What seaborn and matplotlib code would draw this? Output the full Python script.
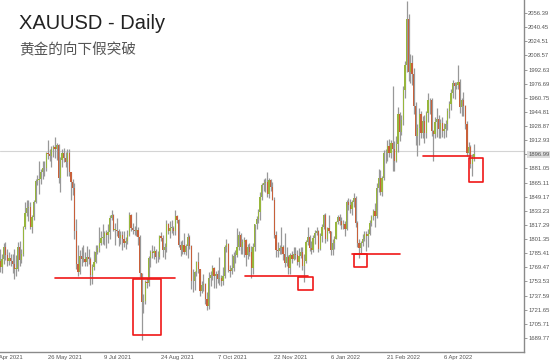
import numpy as np
import pandas as pd
import matplotlib
matplotlib.use("Agg")
import matplotlib.pyplot as plt
import matplotlib.transforms as mtransforms
import seaborn as sns
from matplotlib.patches import Rectangle

# ---------------- data ----------------
first_open = 1777
closes = [
    1770,1779,1793,1783,1777,1780,1777,1773,1768,1768,
    1792,1778,1784,1815,1831,1836,1837,1815,1826,1843,
    1867,1868,1869,1877,1881,1881,1898,1897,1895,1903,
    1905,1903,1908,1870,1891,1898,1893,1888,1899,1877,
    1866,1859,1811,1773,1764,1782,1779,1779,1776,1781,
    1779,1761,1770,1776,1787,1791,1797,1803,1803,1808,
    1806,1809,1825,1828,1812,1812,1810,1803,1806,1802,
    1797,1799,1806,1828,1814,1812,1810,1812,1804,1763,
    1730,1731,1753,1752,1780,1787,1786,1788,1781,1781,
    1805,1803,1789,1793,1818,1810,1814,1814,1810,1827,
    1823,1795,1789,1795,1787,1794,1804,1794,1754,1754,
    1764,1775,1768,1743,1750,1751,1734,1726,1757,1761,
    1769,1760,1762,1756,1757,1754,1760,1793,1796,1767,
    1765,1769,1782,1783,1793,1806,1793,1798,1800,1783,
    1793,1787,1769,1792,1818,1824,1832,1849,1862,1865,
    1866,1852,1868,1860,1845,1806,1789,1788,1791,1792,
    1785,1774,1781,1769,1783,1779,1785,1783,1775,1782,
    1787,1771,1777,1798,1804,1791,1789,1803,1808,1811,
    1790,1805,1815,1829,1801,1814,1810,1789,1797,1801,
    1821,1826,1822,1817,1818,1813,1843,1840,1835,1843,
    1848,1819,1797,1791,1797,1801,1807,1805,1807,1820,
    1826,1833,1827,1859,1870,1855,1870,1898,1898,1906,
    1898,1910,1903,1889,1909,1943,1922,1936,1970,1998,
    2050,1990,2000,1988,1952,1918,1927,1943,1921,1935,
    1921,1944,1958,1958,1923,1920,1933,1937,1925,1932,
    1923,1925,1931,1946,1954,1966,1977,1974,1975,1979,
    1950,1958,1951,1931,1898,1905,1886,1894,1897,
]
highs = [
    1790,1785,1797,1798,1790,1787,1785,1784,1790,1783,
    1798,1799,1790,1816,1843,1846,1845,1843,1829,1846,
    1869,1874,1890,1880,1890,1889,1900,1913,1903,1906,
    1908,1916,1910,1909,1894,1903,1904,1900,1903,1903,
    1877,1869,1865,1824,1795,1789,1792,1795,1787,1794,
    1790,1781,1773,1788,1795,1795,1815,1810,1818,1810,
    1812,1818,1829,1834,1830,1819,1825,1813,1811,1811,
    1810,1804,1812,1832,1830,1820,1816,1832,1815,1806,
    1760,1739,1755,1758,1782,1789,1795,1794,1790,1788,
    1806,1809,1806,1797,1823,1820,1822,1823,1816,1834,
    1828,1824,1799,1800,1808,1796,1808,1806,1795,1768,
    1765,1777,1787,1768,1754,1762,1752,1742,1764,1765,
    1772,1770,1765,1766,1781,1761,1770,1795,1801,1797,
    1772,1785,1787,1789,1814,1810,1808,1802,1804,1802,
    1796,1797,1794,1797,1818,1827,1835,1855,1865,1869,
    1870,1877,1870,1869,1866,1849,1810,1798,1795,1815,
    1795,1808,1793,1783,1786,1788,1793,1793,1789,1791,
    1792,1793,1785,1800,1815,1806,1799,1806,1812,1815,
    1812,1808,1818,1830,1831,1815,1829,1811,1801,1805,
    1822,1829,1830,1826,1823,1822,1845,1848,1847,1845,
    1853,1850,1822,1801,1799,1807,1810,1810,1813,1823,
    1828,1835,1842,1865,1880,1879,1872,1902,1903,1913,
    1914,1913,1974,1912,1918,1950,1945,1941,1974,2002,
    2070,2055,2010,2009,1994,1956,1931,1949,1946,1940,
    1941,1946,1966,1960,1960,1924,1939,1949,1941,1937,
    1939,1932,1936,1949,1957,1971,1981,1979,1979,1998,
    1982,1960,1967,1953,1935,1911,1907,1897,1909,
]
lows = [
    1764,1763,1773,1778,1771,1772,1771,1763,1756,1760,
    1765,1771,1774,1782,1813,1827,1822,1813,1808,1823,
    1842,1862,1852,1863,1869,1872,1878,1892,1889,1883,
    1894,1893,1891,1865,1855,1883,1888,1883,1872,1872,
    1845,1851,1802,1768,1760,1762,1771,1776,1771,1771,
    1773,1750,1751,1766,1774,1784,1787,1795,1796,1795,
    1791,1797,1802,1823,1810,1795,1805,1794,1796,1789,
    1793,1790,1796,1805,1810,1807,1806,1805,1795,1759,
    1687,1718,1728,1746,1749,1770,1780,1779,1774,1775,
    1779,1799,1781,1779,1787,1807,1803,1808,1806,1806,
    1819,1793,1782,1784,1785,1783,1780,1790,1745,1742,
    1744,1760,1763,1737,1741,1743,1728,1721,1722,1748,
    1755,1746,1746,1752,1750,1749,1750,1757,1787,1764,
    1759,1762,1765,1774,1781,1789,1785,1785,1781,1771,
    1779,1782,1758,1762,1788,1813,1820,1823,1846,1856,
    1855,1849,1848,1856,1845,1803,1781,1781,1785,1784,
    1778,1770,1771,1762,1762,1774,1778,1779,1772,1770,
    1780,1766,1753,1774,1795,1788,1785,1787,1796,1806,
    1787,1789,1798,1813,1797,1799,1808,1783,1783,1790,
    1801,1818,1817,1813,1813,1805,1812,1834,1831,1828,
    1838,1815,1793,1780,1785,1794,1799,1788,1792,1806,
    1816,1823,1815,1825,1854,1851,1850,1868,1887,1889,
    1894,1893,1878,1878,1888,1900,1912,1919,1930,1960,
    1990,1980,1977,1975,1943,1907,1895,1907,1915,1915,
    1910,1915,1934,1942,1918,1890,1915,1917,1915,1915,
    1917,1915,1917,1924,1938,1947,1961,1959,1971,1971,
    1944,1940,1940,1925,1895,1892,1881,1872,1889,
]
opens = [first_open] + closes[:-1]

x_tick_labels = ["12 Apr 2021", "26 May 2021", "9 Jul 2021", "24 Aug 2021", "7 Oct 2021",
                 "22 Nov 2021", "6 Jan 2022", "21 Feb 2022", "6 Apr 2022"]
x_tick_bars = [-5, 27, 59, 91, 123, 155, 187, 219, 251]
y_tick_values = [2072.33, 2056.39, 2040.45, 2024.51, 2008.57, 1992.63, 1976.69, 1960.75,
                 1944.81, 1928.87, 1912.93, 1896.99, 1881.05, 1865.11, 1849.17, 1833.23,
                 1817.29, 1801.35, 1785.41, 1769.47, 1753.53, 1737.59, 1721.65, 1705.71,
                 1689.77]
current_price = 1901.0

title = "XAUUSD - Daily"
subtitle = "黄金的向下假突破"

# red annotations (bar index, price)
red_lines = [((31, 99), 1757.5), ((138.5, 174), 1759.7), ((199, 226), 1784.5), ((239, 266.5), 1895.3)]
red_boxes = [((75.1, 91.0), (1693.2, 1756.3)), ((168.4, 176.9), (1743.9, 1758.5)),
             ((200.1, 207.5), (1769.9, 1784.5)), ((265.2, 273.1), (1865.8, 1892.8))]

# ---------------- plot ----------------
sns.set_style("white")
plt.rcParams["font.family"] = ["Liberation Sans", "DejaVu Sans"]

W, H = 554, 362
fig = plt.figure(figsize=(W / 100, H / 100), dpi=100)
ax = fig.add_axes([0, 10 / H, 524 / W, 352 / H])

df = pd.DataFrame({"open": opens, "high": highs, "low": lows, "close": closes})
df["x"] = np.arange(len(df))
df["up"] = df["close"] >= df["open"]
top = np.maximum.reduce([df["high"], df["open"], df["close"]])
bot = np.minimum.reduce([df["low"], df["open"], df["close"]])

ax.axhline(current_price, color="#d4d4d4", lw=0.8, zorder=1)
ax.vlines(df["x"], bot, top, color="#989898", lw=0.9, zorder=2)
body_h = (df["close"] - df["open"]).where(lambda s: s.abs() > 0.6, 0.6)
colors = np.where(df["up"], "#97b63c", "#c8603a")
ax.bar(df["x"], body_h, bottom=df["open"], width=0.7, color=colors,
       edgecolor="none", zorder=3)

for (x0, x1), yv in red_lines:
    ax.plot([x0, x1], [yv, yv], color="#f01818", lw=1.2, solid_capstyle="round", zorder=5)
for (x0, x1), (y0, y1) in red_boxes:
    ax.add_patch(Rectangle((x0, y0), x1 - x0, y1 - y0, fill=False, edgecolor="#f01818",
                           lw=1.2, joinstyle="round", zorder=5))

ax.set_xlim(-0.11, 296.3)
ax.set_ylim(1674.0, 2071.06)

for s in ["top", "left"]:
    ax.spines[s].set_visible(False)
for s in ["right", "bottom"]:
    ax.spines[s].set_color("#8a8a8a")
    ax.spines[s].set_linewidth(1.0)

ax.yaxis.tick_right()
ytv = [v for v in y_tick_values if v < 2071]
ax.set_yticks(ytv)
ax.set_yticklabels([f"{v:.2f}" for v in ytv])
ax.tick_params(axis="y", direction="out", length=2, width=0.6, color="#8a8a8a",
               pad=1, labelsize=4.2, labelcolor="#555555")
ax.set_xticks(x_tick_bars[1:])
ax.set_xticklabels(x_tick_labels[1:])
ax.tick_params(axis="x", direction="out", length=2, width=0.6, color="#8a8a8a",
               pad=0.5, labelsize=4.2, labelcolor="#555555")
for lab in ax.get_xticklabels():
    lab.set_ha("left")
for lab, v in zip(ax.get_yticklabels(), ytv):
    if abs(v - 1896.99) < 0.01:
        lab.set_bbox(dict(facecolor="#dcdcdc", edgecolor="none", pad=0.6))

# partially clipped labels at the edges
off = mtransforms.ScaledTranslation(0, -2.5 / 72, fig.dpi_scale_trans)
ax.text(x_tick_bars[0], 0, x_tick_labels[0], transform=ax.get_xaxis_transform() + off,
        ha="left", va="top", fontsize=4.2, color="#555555", clip_on=False)
ax.text(1.0 + 3.0 / 524, y_tick_values[0], f"{y_tick_values[0]:.2f}", transform=ax.get_yaxis_transform(),
        ha="left", va="center", fontsize=4.2, color="#555555", clip_on=False)

fig.text(19 / W, 1 - 29 / H, title, fontsize=14.5, color="#222222", ha="left", va="baseline",
         family=["Liberation Sans", "DejaVu Sans"])
fig.text(19 / W, 1 - 50 / H, subtitle, fontsize=10.5, color="#555555", ha="left", va="center",
         family=["Noto Sans CJK SC", "DejaVu Sans"])

fig.savefig("out.png", dpi=100)
